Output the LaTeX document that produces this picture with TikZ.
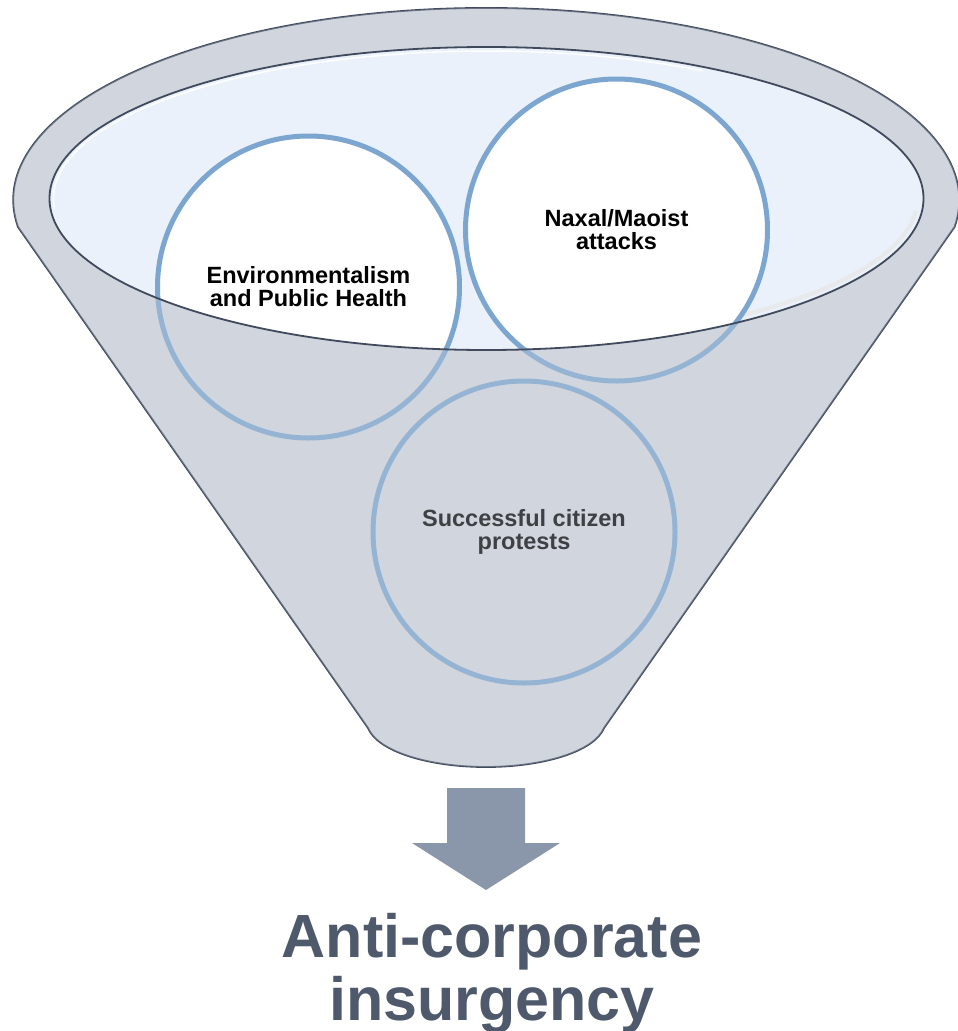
\documentclass[tikz,border=0pt]{standalone}
\usepackage{fontspec}
\setmainfont{Liberation Sans}
\usetikzlibrary{positioning}
\definecolor{funnelgray}{HTML}{D0D5DE}
\definecolor{rimline}{HTML}{404A5C}
\definecolor{bowlblue}{HTML}{EAF1FA}
\definecolor{ringblue}{HTML}{7CA6D0}
\definecolor{arrowgray}{HTML}{8A96AA}
\definecolor{resultgray}{HTML}{4E596B}
\tikzstyle{ring} = [circle, draw=ringblue, line width=5pt, minimum size=302pt, inner sep=0pt, align=center, font=\fontsize{23.5}{23}\selectfont\bfseries]
\tikzstyle{rim} = [draw=rimline, line width=1.8pt]
\begin{document}
\begin{tikzpicture}[x=1pt, y=-1pt]
   \useasboundingbox (0,0) rectangle (958,1031);
   % Funnel body
   \path[rim, fill=funnelgray] (18,227) arc[start angle=171.9, end angle=368.1, x radius=473, y radius=192] -- (604,728)
      .. controls (594,752) and (542,767) .. (486,767) .. controls (430,767) and (378,752) .. (368,728) -- cycle;
   \fill[bowlblue] (486.5,198.5) ellipse[x radius=437, y radius=151.5];
   \draw[white, line width=1.5pt] (486.5,198.5) ++(176:433 and 147.5) arc[start angle=176, end angle=300, x radius=433, y radius=147.5];
   \draw[rimline!12, line width=4pt] (486.5,198.5) ++(5:431 and 145) arc[start angle=5, end angle=75, x radius=431, y radius=145];
   % Place rings
   \coordinate (c-env) at (308.5,287);
   \coordinate (c-naxal) at (616.5,230);
   \coordinate (c-protest) at (524,532);
   \begin{scope}
      \clip (486.5,198.5) ellipse[x radius=437, y radius=151.5];
      \fill[white] (c-env) circle[radius=151];
      \fill[white] (c-naxal) circle[radius=151];
   \end{scope}
   \node [ring] (env) at (c-env) {Environmentalism \\ and Public Health};
   \node [ring] (naxal) at (c-naxal) {Naxal/Maoist \\ attacks};
   \node [ring] (protest) at (c-protest) {Successful citizen \\ protests};
   % Front of the funnel over the rings
   \fill[funnelgray, opacity=0.3, even odd rule] (18,227) arc[start angle=171.9, end angle=368.1, x radius=473, y radius=192] -- (604,728)
      .. controls (594,752) and (542,767) .. (486,767) .. controls (430,767) and (378,752) .. (368,728) -- cycle
      (486.5,198.5) ellipse[x radius=437, y radius=151.5];
   \draw[rim] (486.5,198.5) ellipse[x radius=437, y radius=151.5];
   % Arrow and result
   \fill[arrowgray] (447,788) -- (525,788) -- (525,843) -- (560,843) -- (486,890) -- (412,843) -- (447,843) -- cycle;
   \node [anchor=base, align=center, text=resultgray, font=\fontsize{61}{63}\selectfont\bfseries] (result) at (492,1020) {Anti-corporate \\ insurgency};
\end{tikzpicture}
\end{document}
